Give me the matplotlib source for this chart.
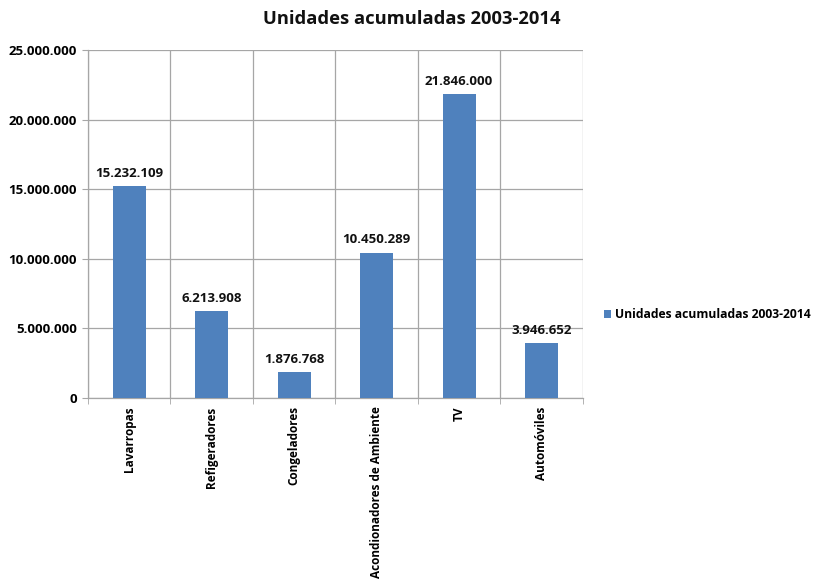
import matplotlib
matplotlib.use("Agg")
import matplotlib.pyplot as plt
from matplotlib.ticker import FuncFormatter, MultipleLocator
from matplotlib.patches import Patch

categories = ["Lavarropas", "Refigeradores", "Congeladores", "Acondionadores de Ambiente", "TV", "Automóviles"]
values = [15232109, 6213908, 1876768, 10450289, 21846000, 3946652]
series_name = "Unidades acumuladas 2003-2014"
title = "Unidades acumuladas 2003-2014"

def fmt(v):
    return f"{int(v):,}".replace(",", ".")

plt.rcParams['font.family'] = ['Open Sans', 'DejaVu Sans']
color = "#4F81BD"
gridc = "#a6a6a6"

fig = plt.figure(figsize=(8.15, 5.85), dpi=100)
ax = fig.add_axes([0.108, 0.3197, 0.607, 0.5948])

x = list(range(len(categories)))
ax.bar(x, values, width=0.4, color=color, zorder=3)
for xi, v in zip(x, values):
    ax.text(xi, v + 450000, fmt(v), ha="center", va="bottom", fontsize=9.5, fontweight="bold", color="#111111")

ax.set_xlim(-0.5, len(categories) - 0.5)
ax.set_ylim(0, 25000000)
ax.yaxis.set_major_locator(MultipleLocator(5000000))
ax.yaxis.set_major_formatter(FuncFormatter(lambda v, p: fmt(v)))
ax.grid(axis="y", color=gridc, linewidth=0.9, zorder=0)
for b in range(len(categories) + 1):
    ax.axvline(b - 0.5, color=gridc, linewidth=0.9, zorder=0)

ax.set_xticks(x)
ax.set_xticklabels(categories, rotation=90, fontsize=8.5, fontweight="bold")
ax.tick_params(axis="x", length=0, pad=6)
ax.set_xticks([b - 0.5 for b in range(len(categories) + 1)], minor=True)
ax.tick_params(axis="x", which="minor", length=4, color=gridc, direction="out")
ax.tick_params(axis="y", length=4, color=gridc, labelsize=9.5, pad=4)
for lab in ax.get_yticklabels():
    lab.set_fontweight("bold")
for s in ["top", "right"]:
    ax.spines[s].set_visible(False)
for s in ["left", "bottom"]:
    ax.spines[s].set_color(gridc)
    ax.spines[s].set_linewidth(0.9)

fig.text(0.505, 0.968, title, ha="center", va="center", fontsize=13.2, fontweight="bold", color="#111111")

handle = Patch(facecolor=color, label=series_name)
fig.legend(handles=[handle], loc="center left", bbox_to_anchor=(0.728, 0.462), frameon=False,
           handlelength=0.6, handleheight=0.6, handletextpad=0.3,
           prop={"weight": "bold", "size": 8.7})

fig.savefig("out.png", dpi=100)
